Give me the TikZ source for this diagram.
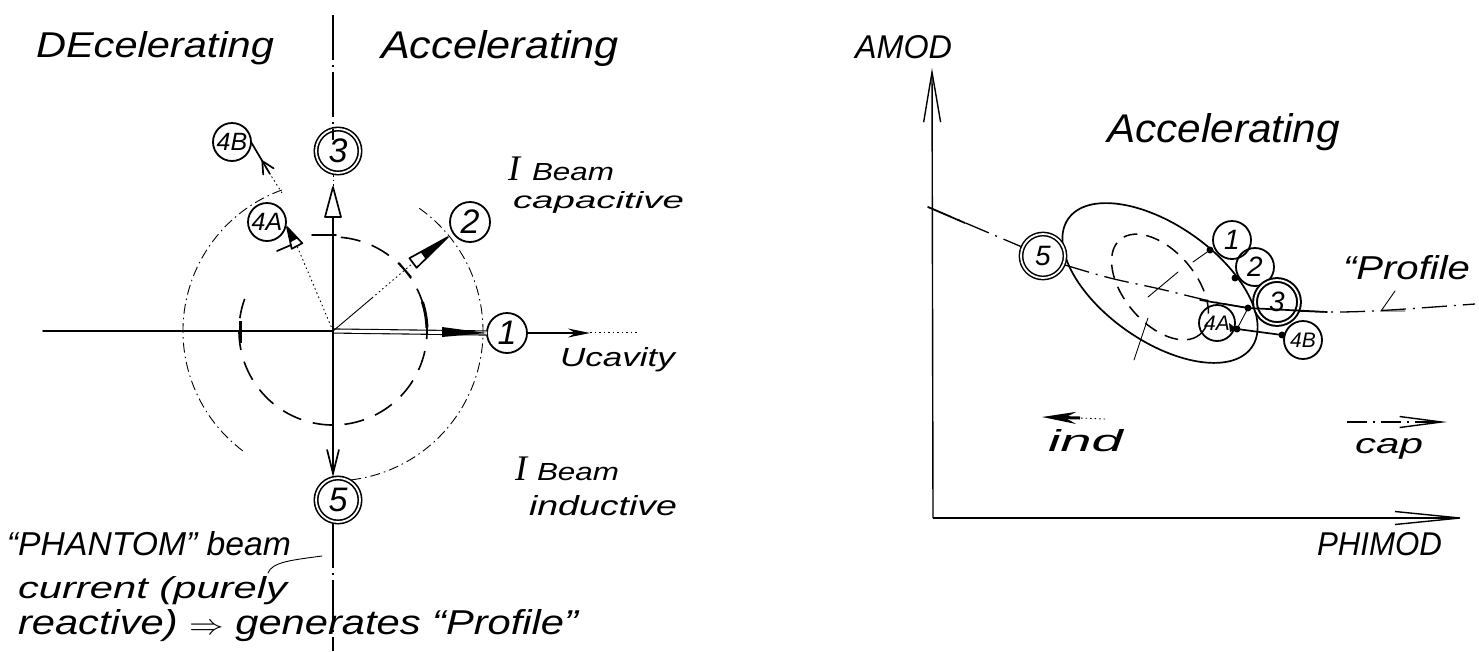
\documentclass[tikz,border=0pt]{standalone}
\usepackage{graphicx}
\usepackage{fontspec}
\setmainfont{Liberation Sans}
\newfontfamily\serifhand{Liberation Serif}
\usetikzlibrary{arrows.meta,calc}
\newcommand\hand[3]{\resizebox{#1pt}{#2pt}{\fontsize{30}{30}\selectfont\itshape #3}}
\begin{document}
\begin{tikzpicture}[x=1pt,y=-1pt,
  every node/.style={inner sep=0pt,outer sep=0pt},
  ink/.style={line width=1.7pt,line cap=round,line join=round},
  fine/.style={line width=0.9pt,line cap=round},
  dotline/.style={line width=0.9pt,dash pattern=on 1.5pt off 3pt},
  axisdd/.style={line width=1.4pt,dash pattern=on 45pt off 5pt on 2pt off 5pt},
  arcdd/.style={line width=0.9pt,dash pattern=on 10pt off 4pt on 1.5pt off 4pt},
  longdash/.style={line width=1.6pt,dash pattern=on 20pt off 12pt},
  profdd/.style={line width=1.3pt,dash pattern=on 25pt off 7pt on 2pt off 7pt},
  circ/.style={circle,draw,line width=1.8pt,minimum size=40pt,font=\fontsize{34}{34}\selectfont\itshape},
  dcirc/.style={circ,double,double distance=1.8pt,line width=1.6pt},
  rcirc/.style={circ,minimum size=38pt,font=\fontsize{28}{28}\selectfont\itshape},
  rdcirc/.style={rcirc,double,double distance=1.8pt,line width=1.5pt},
  smallcirc/.style={circ,minimum size=38pt,font=\fontsize{25}{25}\selectfont\itshape},
  dot/.style={circle,fill,minimum size=7pt},
  txt/.style={anchor=base west},
  bigI/.style={anchor=base west,font=\fontsize{36}{36}\selectfont\serifhand\itshape}
]
\useasboundingbox (0,0) rectangle (1479,651);

% ---------------- left diagram ----------------
\coordinate (O) at (333,331);
\node[circ] (L1) at (507,333) {1};
\node[circ] (L2) at (470,222) {2};
\node[dcirc,minimum size=44pt] (L3) at (338,151) {3};
\node[smallcirc] (L4A) at (267,222) {4A};
\node[smallcirc] (L4B) at (232,142) {4B};
\node[dcirc,minimum size=44pt] (L5) at (338,500) {5};

% horizontal axis
\draw[ink] (43,331) -- (O);
\draw[line width=1.1pt,double,double distance=3pt] (O) -- (L1.west);
\fill (442,327) -- (L1.west) -- (442,337) -- cycle;
\draw[ink,-{Stealth[length=22pt,width=9pt]}] (L1.east) -- (590,333);
\draw[dotline] (590,332) -- (637,332);

% vertical axis
\draw[axisdd] (333,15) -- (333,140);
\draw[dotline] (333,175) -- (333,187);
\draw[ink] (325,217) -- (333,187) -- (341,217) -- cycle;
\draw[ink] (333,217) -- (O);
\draw[ink,-{Straight Barb[length=24pt,width=12pt]}] (O) -- (333,477);
\draw[axisdd] (333,523) -- (333,651);

% inner dashed circle and its marks
\draw[longdash] ($(O)+(-160:94)$) arc[start angle=-160,end angle=-450,radius=94];
\draw[line width=3pt] ($(O)+(-2:94)$) arc[start angle=-2,end angle=-18,radius=94];
\draw[line width=3pt] (240,321) -- (240,343);
\draw[ink] (312,235) -- (336,235);
\draw[ink] (399,263) -- (411,277);
\draw[ink] (277,251) -- (291,245);

% outer dash-dot arcs
\draw[arcdd] ($(O)+(-110:150)$) arc[start angle=-110,end angle=-233,radius=150];
\draw[arcdd] ($(O)+(83:150)$) arc[start angle=83,end angle=-55,radius=150];

% phasor 2
\draw[fine] (O) -- (372,298);
\draw[dotline] (372,298) -- (413,263);
\draw[ink] (409.4,258.2) -- (448,237) -- (416.6,267.8) -- cycle;
\fill (420.7,252.2) -- (448,237) -- (426,259.4) -- cycle;

% phasor 4A
\draw[dotline] (O) -- (297,246);
\draw[ink] (302.3,243.2) -- (287,227) -- (291.7,248.8) -- cycle;
\fill (297.7,238.3) -- (287,227) -- (290.3,242.3) -- cycle;

% arrow to 4B
\draw[dotline] (282,193) -- (270,174);
\draw[ink] (270,174) -- (L4B.east);
\draw[ink] (273.6,168.3) -- (262.3,161.1) -- (263.2,174.5);

% texts left
\node[txt] (tDec) at (36,57) {\hand{238}{26}{DEcelerating}};
\node[txt] (tAccL) at (381,58) {\hand{238}{28}{Accelerating}};
\node[bigI] (tI1) at (508,180) {I};
\node[txt] (tB1) at (532,180) {\hand{82}{17}{Beam}};
\node[txt] (tcap) at (513,208) {\hand{171}{17}{capacitive}};
\node[txt] (tUc) at (560,366) {\hand{115}{19}{Ucavity}};
\node[bigI] (tI2) at (515,480) {I};
\node[txt] (tB2) at (537,480) {\hand{82}{17}{Beam}};
\node[txt] (tind2) at (529,515) {\hand{148}{20}{inductive}};
\node[txt] (tph1) at (7,555) {\hand{284}{24}{“PHANTOM” beam}};
\node[txt] (tph2) at (18,598) {\hand{269}{22}{current (purely}};
\node[txt] (tph3) at (18,634) {\hand{560}{25}{reactive) $\Rightarrow$ generates “Profile”}};
\draw[fine] (268,573) .. controls (272,562) and (292,560) .. (322,556);

% ---------------- right diagram ----------------
\coordinate (RO) at (933,518);
\draw[line width=1.4pt,-{Straight Barb[length=50pt,width=17pt]}] (RO) -- (932,68);
\draw[line width=1.4pt,-{Straight Barb[length=65pt,width=13pt]}] (RO) -- (1467,518);

\node[txt] (tAMOD) at (855,58) {\hand{97}{23}{AMOD}};
\node[txt] (tAccR) at (1107,142) {\hand{233}{29}{Accelerating}};
\node[txt] (tProf) at (1343,279) {\hand{127}{24}{“Profile}};
\node[txt] (tind) at (1048,451) {\hand{75}{22}{ind}};
\node[txt] (tcapR) at (1355,453) {\hand{68}{15}{cap}};
\node[txt] (tPHI) at (1317,555) {\hand{125}{23}{PHIMOD}};

\draw[dotline] (1105,419) -- (1080,418);
\draw[line width=3pt,-{Stealth[length=34pt,width=12pt]}] (1080,418) -- (1042,417);
\draw[line width=1.4pt,dash pattern=on 20pt off 6pt on 2pt off 6pt,-{Straight Barb[length=42pt,width=11pt]}] (1347,422) -- (1447,422);

% ellipses
\draw[ink,rotate around={-35:(1160,283)}] (1160,283) ellipse [x radius=112,y radius=58];
\draw[line width=1.5pt,dash pattern=on 14pt off 9pt,rotate around={-50:(1160,287)}] (1160,287) ellipse [x radius=62,y radius=36];

% circles
\node[rdcirc,minimum size=44pt] (R5) at (1043,256) {5};
\node[rcirc] (R1) at (1232,240) {1};
\node[rcirc] (R2) at (1255,267) {2};
\node[rdcirc,minimum size=44pt,line width=2pt] (R3) at (1277,302) {3};
\node[smallcirc,minimum size=36pt,font=\fontsize{21}{21}\selectfont\itshape] (R4A) at (1217,323) {4A};
\node[smallcirc,minimum size=38pt,font=\fontsize{21}{21}\selectfont\itshape] (R4B) at (1303,340) {4B};

% profile curve
\draw[profdd] plot[smooth,tension=0.6] coordinates {(928,207) (975,227) (1022,247)};
\draw[profdd] plot[smooth,tension=0.6] coordinates {(1065,265) (1110,278) (1160,289) (1210,301) (1248,308)};
\draw[profdd] plot[smooth,tension=0.6] coordinates {(1299,311) (1340,312) (1390,310) (1475,304)};
\draw[ink] (928,207) -- (965,223);
\draw[fine] (1395,291) -- (1381,311) -- (1405,311);

% dots and links
\node[dot] (d1) at (1210,250) {};
\node[dot] (d2) at (1235,278) {};
\node[dot] (d3) at (1248,308) {};
\node[dot] (d4A) at (1237,329) {};
\node[dot] (d4B) at (1282,335) {};
\draw[ink] (1200,300) -- (d3);
\draw[ink] (d3) -- (1327,312);
\draw[fine] (d3) -- (d4A);
\draw[ink] (d4A) -- (d4B);
\draw[fine] (d1) -- (1193,262);
\fill (1229,323) -- (d4A.center) -- (1230,332) -- cycle;

% centre marks
\draw[fine] (1148,297) -- (1178,272);
\draw[fine] (1148,318) -- (1134,360);
\end{tikzpicture}
\end{document}
